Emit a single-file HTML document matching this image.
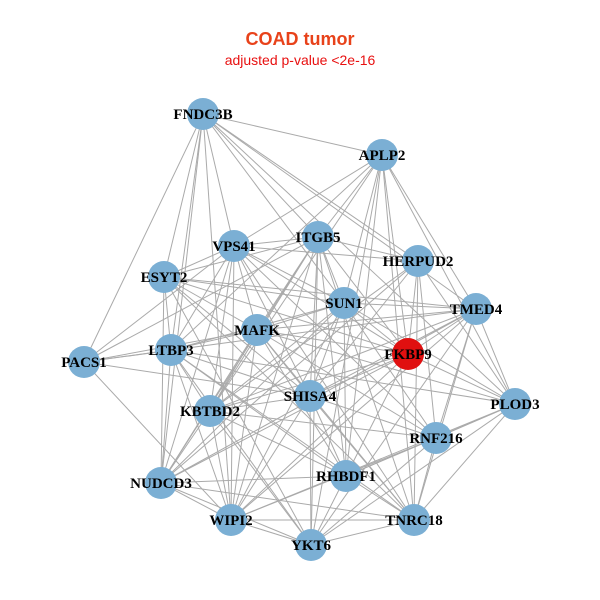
<!DOCTYPE html>
<html><head><meta charset="utf-8"><style>
html,body{margin:0;padding:0;background:#fff;}
svg{display:block;}
</style></head><body>
<svg id="g" width="600" height="600" xmlns="http://www.w3.org/2000/svg">
<rect width="600" height="600" fill="#fff"/>
<text x="300" y="45" text-anchor="middle" font-family="Liberation Sans, sans-serif" font-weight="bold" font-size="18" fill="#e8421a">COAD tumor</text>
<text x="300" y="65" text-anchor="middle" font-family="Liberation Sans, sans-serif" font-size="14" fill="#e81010">adjusted p-value &lt;2e-16</text>
<g id="edges" stroke="#aaaaaa" stroke-width="1"></g>
<g id="nodes"></g>
</svg>
<script>
var N=[["FNDC3B",203,114],["APLP2",382,155],["ITGB5",318,237],["VPS41",234,246],["HERPUD2",418,261],["ESYT2",164,277],["SUN1",344,303],["TMED4",476,309],["MAFK",257,330],["LTBP3",171,350],["FKBP9",408,354],["PACS1",84,362],["SHISA4",310,396],["KBTBD2",210,411],["PLOD3",515,404],["RNF216",436,438],["NUDCD3",161,483],["RHBDF1",346,476],["WIPI2",231,520],["TNRC18",414,520],["YKT6",311,545]];
var e=document.getElementById("edges"),nd=document.getElementById("nodes"),s="";
var seed=7;function r(){seed=(seed*9301+49297)%233280;return seed/233280;}
for(var i=0;i<N.length;i++)for(var j=i+1;j<N.length;j++){
var dx=N[i][1]-N[j][1],dy=N[i][2]-N[j][2],d=Math.sqrt(dx*dx+dy*dy);
var p=d<200?0.85:d<300?0.65:0.4;
if(r()<p)s+='<line x1="'+N[i][1]+'" y1="'+N[i][2]+'" x2="'+N[j][1]+'" y2="'+N[j][2]+'"/>';}
e.innerHTML=s;s="";
N.forEach(function(n){s+='<circle cx="'+n[1]+'" cy="'+n[2]+'" r="16" fill="'+(n[0]=="FKBP9"?"#e01010":"#7bafd4")+'"/>';});
N.forEach(function(n){s+='<text x="'+n[1]+'" y="'+(n[2]+5)+'" text-anchor="middle" font-family="Liberation Serif, serif" font-weight="bold" font-size="15" fill="#000">'+n[0]+'</text>';});
nd.innerHTML=s;
</script>
</body></html>
